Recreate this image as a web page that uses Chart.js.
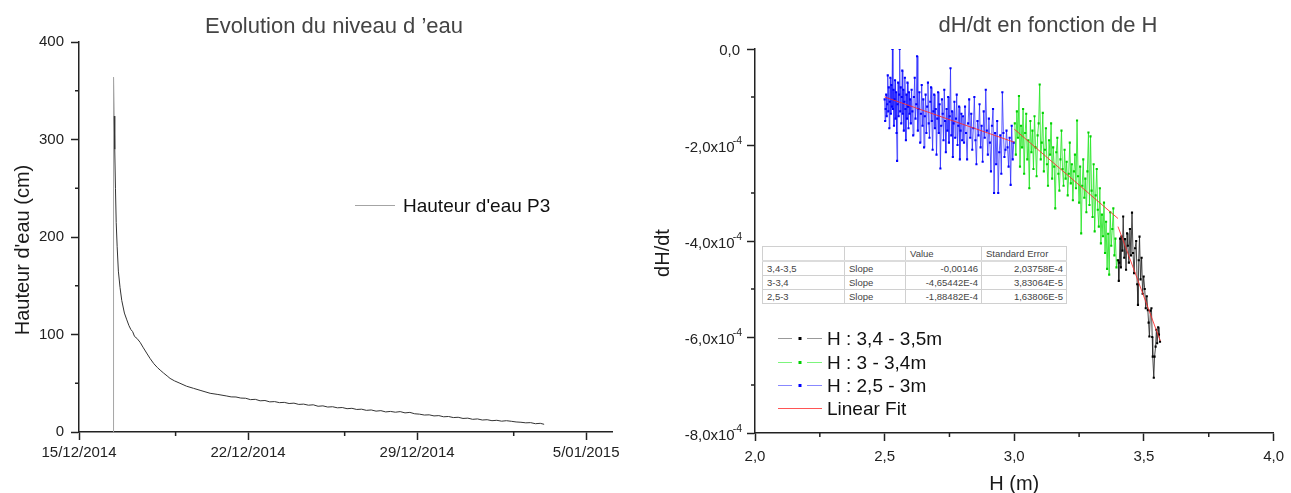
<!DOCTYPE html>
<html>
<head>
<meta charset="utf-8">
<script src="https://cdn.jsdelivr.net/npm/chart.js@4.4.1/dist/chart.umd.min.js"></script>
<style>
body { margin: 0; background: #fff; width: 1291px; height: 493px; overflow: hidden; position: relative; font-family: "Liberation Sans", Arial, sans-serif; }
#niveau { position: absolute; left: 0; top: 0; }
#vitesse { position: absolute; left: 640px; top: 0; }
#fitTable { position: absolute; left: 762px; top: 246px; border-collapse: collapse; font-size: 9.5px; color: #444; background: #fff; border: 1px solid #9a9a9a; table-layout: fixed; }
#fitTable td { border: 1px solid #d0d0d0; height: 13px; line-height: 13px; padding: 0 4px; white-space: nowrap; overflow: hidden; }
#fitTable tr:first-child td { border-bottom: 2px solid #dcdcdc; }
#fitTable td.num { text-align: right; padding-right: 3px; }
</style>
</head>
<body>
<canvas id="niveau" width="640" height="493"></canvas>
<canvas id="vitesse" width="651" height="493"></canvas>
<table id="fitTable"></table>
<script>
// ---- Evolution du niveau d'eau (P3) ----
// time in days after 15/12/2014 00:00, water height in cm
const jours = [
  1.42, 1.43, 1.46, 1.48, 1.51, 1.54, 1.58, 1.63, 1.70, 1.77, 1.88, 1.98, 2.07, 2.15, 2.22, 2.30,
  2.40, 2.53, 2.65, 2.80, 2.94, 3.10, 3.25, 3.36, 3.50, 3.65, 3.77, 3.95, 4.18, 4.45, 4.74, 5.05,
  5.43, 5.75, 6.12, 6.3, 6.5, 6.7, 6.9, 7.1, 7.3, 7.5, 7.7, 7.9, 8.1, 8.3, 8.5, 8.7, 8.9, 9.1,
  9.3, 9.5, 9.7, 9.9, 10.1, 10.3, 10.5, 10.7, 10.9, 11.1, 11.3, 11.5, 11.7, 11.9, 12.1, 12.3,
  12.5, 12.7, 12.9, 13.1, 13.3, 13.5, 13.7, 13.9, 14.1, 14.3, 14.5, 14.7, 14.9, 15.1, 15.3, 15.5,
  15.7, 15.9, 16.1, 16.3, 16.5, 16.7, 16.9, 17.1, 17.3, 17.5, 17.7, 17.9, 18.1, 18.3, 18.5, 18.7,
  18.9, 19.1, 19.26
];
const hauteurCm = [
  0, 364, 324, 290, 250, 215, 190, 165, 148, 135, 122, 115, 109, 105, 103, 98,
  96, 92, 87, 81, 75.5, 70, 66, 63.5, 60.5, 57.5, 55, 52.5, 50, 47, 44.8, 42.5,
  39.7, 38.5, 36.9, 36.0, 35.9, 34.8, 34.6, 33.2, 33.5, 32.0, 32.3, 30.9, 31.2, 30.1, 30.4, 29.2, 29.6, 28.3,
  28.6, 27.5, 27.9, 26.4, 26.8, 25.6, 25.9, 24.8, 25.1, 23.9, 24.3, 23.1, 23.4, 22.2, 22.6, 21.4,
  21.9, 20.6, 21.1, 20.3, 20.9, 19.6, 20.1, 18.7, 18.3, 17.4, 17.6, 16.5, 16.8, 15.6, 15.9, 14.8,
  15.1, 13.9, 14.2, 13.0, 13.4, 12.3, 12.6, 11.6, 12.0, 11.1, 11.6, 11.0, 10.3, 10.0, 9.4, 9.6,
  8.5, 8.9, 7.9
];
const jourTicks = [0, 7, 14, 21];
const jourLabels = ['15/12/2014', '22/12/2014', '29/12/2014', '5/01/2015'];
const jourMinor = [4, 11, 18];
const hauteurTicks = [0, 100, 200, 300, 400];
const hauteurMinor = [50, 150, 250, 350];

// ---- dH/dt en fonction de H ----
// rates are in units of 1e-4
const RATE_UNIT = 1e-4;
const hBleu = [
  2.500, 2.502, 2.504, 2.506, 2.508, 2.510, 2.512, 2.514, 2.516, 2.518, 2.520, 2.522, 2.524, 2.526, 2.528, 2.530,
  2.532, 2.534, 2.536, 2.538, 2.540, 2.542, 2.544, 2.546, 2.548, 2.550, 2.552, 2.554, 2.556, 2.558, 2.560, 2.562,
  2.564, 2.566, 2.568, 2.570, 2.572, 2.574, 2.576, 2.578, 2.580, 2.582, 2.584, 2.586, 2.588, 2.590, 2.592, 2.594,
  2.596, 2.598,
  2.601, 2.604, 2.607, 2.610, 2.613, 2.616, 2.619, 2.622, 2.625, 2.628, 2.631, 2.634, 2.637, 2.640, 2.643, 2.646,
  2.649, 2.652, 2.655, 2.658, 2.661, 2.664, 2.667, 2.670, 2.673, 2.676, 2.679, 2.682, 2.685, 2.688, 2.691, 2.694,
  2.697, 2.700, 2.703, 2.706, 2.709, 2.712, 2.715, 2.718, 2.721, 2.724, 2.727, 2.730, 2.733, 2.736, 2.739, 2.742,
  2.745, 2.748, 2.751, 2.754, 2.757, 2.760, 2.763, 2.766, 2.769, 2.772, 2.775, 2.778, 2.781, 2.784, 2.787, 2.790,
  2.793, 2.796, 2.799,
  2.802, 2.806, 2.810, 2.814, 2.818, 2.822, 2.826, 2.830, 2.834, 2.838, 2.842, 2.846, 2.850, 2.854, 2.858, 2.862,
  2.866, 2.870, 2.874, 2.878, 2.882, 2.886, 2.890, 2.894, 2.898, 2.902, 2.906, 2.910, 2.914, 2.918, 2.922, 2.926,
  2.930, 2.934, 2.938, 2.942, 2.946, 2.950, 2.954, 2.958, 2.962, 2.966, 2.970, 2.974, 2.978, 2.982, 2.986, 2.990,
  2.994, 2.998
];
const rateBleu = [
  -1.05, -1.50, -1.25, -0.95, -1.40, -1.15, -0.55, -1.30, -0.80, -1.65, -1.10, -0.60, -1.35, -0.75, -1.20, -0.00,
  -1.25, -0.85, -1.60, -1.05, -0.65, -1.45, -0.90, -1.75, -2.33, -1.15, -0.70, -1.40, -0.95, -0.00, -1.30, -0.80,
  -1.55, -1.00, -0.45, -1.35, -0.85, -1.70, -1.10, -0.60, -1.25, -1.90, -0.95, -1.45, -0.70, -1.20, -1.65, -0.90,
  -1.35, -1.05,
  -1.55, -0.85, -1.30, -1.80, -1.00, -0.60, -1.45, -1.15, -0.15, -1.70, -1.25, -0.90, -1.95, -1.35, -0.75, -1.60,
  -1.05, -2.05, -1.40, -0.95, -1.75, -1.20, -0.70, -1.55, -1.85, -1.10, -0.80, -1.50, -2.10, -1.30, -0.95, -1.65,
  -1.25, -2.20, -1.45, -0.90, -1.75, -1.15, -2.49, -1.60, -1.05, -1.35, -1.90, -0.85, -1.50, -2.15, -1.25, -1.70,
  -1.00, -1.95, -1.40, -0.40, -1.80, -1.30, -2.25, -1.55, -1.10, -1.85, -1.45, -0.95, -2.00, -1.60, -1.20, -2.30,
  -1.70, -1.35, -1.90,
  -1.40, -1.95, -1.20, -1.75, -2.30, -1.55, -1.05, -1.85, -1.35, -2.10, -1.65, -1.00, -1.90, -2.40, -1.50, -1.80,
  -1.15, -2.05, -1.60, -2.35, -1.30, -1.85, -0.85, -1.70, -2.20, -1.45, -1.95, -2.55, -1.60, -1.25, -3.00, -1.75,
  -2.40, -1.50, -3.00, -2.15, -1.80, -2.60, -0.90, -1.75, -2.25, -2.10, -1.70, -2.05, -2.45, -1.85, -2.83, -1.60,
  -2.30, -1.95
];
const hVert = [
  3.002, 3.006, 3.010, 3.014, 3.018, 3.022, 3.026, 3.030, 3.034, 3.038, 3.042, 3.046, 3.050, 3.054, 3.058, 3.062,
  3.066, 3.070, 3.074, 3.078, 3.082, 3.086, 3.090, 3.094, 3.098, 3.102, 3.106, 3.110, 3.114, 3.118, 3.122, 3.126,
  3.130, 3.134, 3.138, 3.142, 3.146, 3.150, 3.154, 3.158, 3.162, 3.166, 3.170, 3.174, 3.178, 3.182, 3.186, 3.190,
  3.194, 3.198, 3.202, 3.206, 3.210, 3.214, 3.218, 3.222, 3.226, 3.230, 3.234, 3.238, 3.242, 3.246, 3.250, 3.254,
  3.258, 3.262, 3.266, 3.270, 3.274, 3.278, 3.282, 3.286, 3.290, 3.294, 3.298, 3.302, 3.306, 3.310, 3.314, 3.318,
  3.322, 3.326, 3.330, 3.334, 3.338, 3.342, 3.346, 3.350, 3.354, 3.358, 3.362, 3.366, 3.370, 3.374, 3.378, 3.382,
  3.386, 3.390, 3.394, 3.398
];
const rateVert = [
  -1.55, -2.20, -1.30, -1.85, -0.98, -2.45, -1.60, -2.05, -1.25, -2.60, -1.75, -1.35, -2.30, -1.90, -2.90, -1.50,
  -2.15, -1.70, -2.50, -1.40, -2.05, -2.65, -1.80, -1.55, -0.74, -2.30, -1.95, -1.33, -2.55, -2.10, -1.65, -2.40,
  -2.85, -1.90, -2.20, -1.55, -2.70, -2.05, -2.45, -3.32, -2.15, -1.85, -2.60, -2.95, -2.30, -1.70, -2.50, -2.85,
  -2.10, -2.70, -2.35, -3.05, -2.60, -1.95, -2.80, -2.40, -3.15, -2.55, -2.20, -2.90, -1.49, -2.65, -3.20, -2.45,
  -3.84, -2.85, -2.30, -3.10, -2.70, -3.40, -2.55, -1.74, -3.25, -1.82, -2.95, -3.50, -2.40, -3.80, -3.05, -2.50,
  -3.35, -3.70, -2.90, -4.05, -3.45, -3.90, -3.20, -4.25, -3.60, -4.58, -3.85, -4.70, -3.40, -4.10, -3.75, -3.32,
  -4.30, -3.95, -4.55, -4.40
];
const hNoir = [
  3.401, 3.403, 3.405, 3.408, 3.411, 3.413, 3.417, 3.420, 3.424, 3.427, 3.431, 3.435, 3.438, 3.442, 3.446, 3.450,
  3.454, 3.458, 3.462, 3.466, 3.470, 3.474, 3.477, 3.480, 3.483, 3.487, 3.491, 3.495, 3.499, 3.503, 3.507, 3.511,
  3.515, 3.518, 3.521, 3.525, 3.529, 3.532, 3.534, 3.538, 3.541, 3.545, 3.548, 3.551, 3.555, 3.558, 3.562
];
const rateNoir = [
  -4.40, -4.83, -4.45, -3.95, -4.55, -3.91, -4.20, -3.49, -4.35, -3.96, -4.60, -3.84, -4.10, -4.45, -3.75, -4.30,
  -3.41, -4.25, -4.67, -4.15, -4.00, -4.90, -5.33, -4.40, -3.91, -4.80, -4.35, -5.10, -4.74, -5.00, -5.40, -5.15,
  -5.44, -5.70, -5.99, -5.45, -5.40, -6.00, -6.41, -6.85, -6.41, -6.20, -5.85, -6.13, -5.80, -5.95, -6.10
];
const serieLabels = ['H : 3,4 - 3,5m', 'H : 3 - 3,4m', 'H : 2,5 - 3m', 'Linear Fit'];

// linear fits, one per H range (slopes per m)
const fitRanges = ['3,4-3,5', '3-3,4', '2,5-3'];
const fitFrom = [3.40, 3.00, 2.50];
const fitTo = [3.563, 3.40, 3.00];
const fitStartRate = [-3.70, -1.67, -1.00];
const fitSlope = [-0.00146, -4.65442e-4, -1.88482e-4];
const fitStdErr = [2.03758e-4, 3.83064e-5, 1.63806e-5];

const hTicks = [2, 2.5, 3, 3.5, 4];
const hTickLabels = ['2,0', '2,5', '3,0', '3,5', '4,0'];
const hMinor = [2.25, 2.75, 3.25, 3.75];
const rateTicks = [0, -2, -4, -6, -8];
const rateTickLabels = ['0,0', '-2,0x10', '-4,0x10', '-6,0x10', '-8,0x10'];
const rateTickExp = ['', '-4', '-4', '-4', '-4'];
const rateMinor = [-1, -3, -5, -7];

const FONT = '"Liberation Sans", Arial, sans-serif';
Chart.defaults.font.family = FONT;
Chart.defaults.color = '#222';
Chart.defaults.animation = false;

function fmtOrigin(v) {
  if (Math.abs(v) >= 1e-3) return String(v).replace('.', ',');
  return v.toExponential(5).replace('.', ',').replace('e', 'E');
}

function drawMinor(ctx, scale, values, len) {
  ctx.save();
  ctx.strokeStyle = '#222';
  ctx.lineWidth = 1.5;
  ctx.beginPath();
  values.forEach(v => {
    const p = scale.getPixelForValue(v);
    if (scale.isHorizontal()) {
      ctx.moveTo(p, scale.top);
      ctx.lineTo(p, scale.top + len);
    } else {
      ctx.moveTo(scale.right - len, p);
      ctx.lineTo(scale.right, p);
    }
  });
  ctx.stroke();
  ctx.restore();
}

function axisX(min, max, ticks, labels, pad) {
  return {
    type: 'linear', min: min, max: max,
    afterBuildTicks: s => { s.ticks = ticks.map(v => ({ value: v })); },
    afterFit: s => { s.height = 40; },
    ticks: { callback: (v, i) => labels[i], maxRotation: 0, autoSkip: false, padding: pad, font: { size: 15 }, color: '#222' },
    grid: { drawOnChartArea: false, tickLength: 8, tickWidth: 1.5, tickColor: '#222' },
    border: { color: '#222', width: 1.5 }
  };
}

// left chart decorations: title, axis title, legend, minor ticks
const decorNiveau = {
  id: 'decorNiveau',
  afterDraw(chart) {
    const ctx = chart.ctx;
    drawMinor(ctx, chart.scales.x, jourMinor, 4);
    drawMinor(ctx, chart.scales.y, hauteurMinor, 4);
    ctx.save();
    ctx.fillStyle = '#444';
    ctx.font = '22px ' + FONT;
    ctx.textAlign = 'center';
    ctx.fillText("Evolution du niveau d \u2019eau", 334, 32.5);
    ctx.fillStyle = '#1a1a1a';
    ctx.font = '20px ' + FONT;
    ctx.translate(29, 250);
    ctx.rotate(-Math.PI / 2);
    ctx.fillText("Hauteur d'eau (cm)", 0, 0);
    ctx.restore();
    ctx.save();
    ctx.strokeStyle = '#a4a4a4';
    ctx.lineWidth = 1;
    ctx.beginPath();
    ctx.moveTo(355, 205.5);
    ctx.lineTo(395, 205.5);
    ctx.stroke();
    ctx.fillStyle = '#111';
    ctx.font = '19px ' + FONT;
    ctx.fillText(chart.data.datasets[0].label, 403, 211.5);
    ctx.restore();
  }
};

new Chart(document.getElementById('niveau'), {
  type: 'line',
  data: {
    datasets: [{
      label: "Hauteur d'eau P3",
      data: jours.map((d, i) => ({ x: d, y: hauteurCm[i] })),
      borderColor: '#333',
      borderWidth: 1,
      segment: { borderColor: c => c.p0DataIndex < 2 ? '#a6a6a6' : '#333' },
      pointRadius: 0,
      tension: 0
    }]
  },
  options: {
    responsive: false,
    events: [],
    layout: { padding: { left: 0, top: 42, right: 28, bottom: 21 } },
    plugins: { legend: { display: false }, tooltip: { enabled: false } },
    scales: {
      x: axisX(0, 22.07, jourTicks, jourLabels, 4),
      y: {
        min: 0, max: 400,
        afterBuildTicks: s => { s.ticks = hauteurTicks.map(v => ({ value: v })); },
        afterFit: s => { s.width = 79; },
        ticks: { padding: 7, font: { size: 15 }, color: '#222' },
        grid: { drawOnChartArea: false, tickLength: 8, tickWidth: 1.5, tickColor: '#222' },
        border: { color: '#222', width: 1.5 }
      }
    }
  },
  plugins: [decorNiveau]
});

// right chart decorations: title, axis titles, y labels with exponent, legend, minor ticks
const decorVitesse = {
  id: 'decorVitesse',
  afterDraw(chart) {
    const ctx = chart.ctx;
    const xs = chart.scales.x, ys = chart.scales.y;
    drawMinor(ctx, xs, hMinor, 4);
    drawMinor(ctx, ys, rateMinor.map(v => v * RATE_UNIT), 4);

    ctx.save();
    ctx.fillStyle = '#222';
    ctx.textAlign = 'right';
    rateTicks.forEach((v, i) => {
      const y = ys.getPixelForValue(v * RATE_UNIT);
      const right = ys.right - 13;
      if (rateTickExp[i]) {
        ctx.font = '10.5px ' + FONT;
        const w = ctx.measureText(rateTickExp[i]).width;
        ctx.fillText(rateTickExp[i], right, y - 1.5);
        ctx.font = '15px ' + FONT;
        ctx.fillText(rateTickLabels[i], right - w + 2, y + 6.5);
      } else {
        ctx.font = '15px ' + FONT;
        ctx.fillText(rateTickLabels[i], right - 2, y + 5.5);
      }
    });

    ctx.textAlign = 'center';
    ctx.fillStyle = '#444';
    ctx.font = '22px ' + FONT;
    ctx.fillText('dH/dt en fonction de H', 408, 32);
    ctx.fillStyle = '#1a1a1a';
    ctx.font = '20px ' + FONT;
    ctx.fillText('H (m)', (chart.chartArea.left + chart.chartArea.right) / 2, 490);
    ctx.translate(29, 253);
    ctx.rotate(-Math.PI / 2);
    ctx.fillText('dH/dt', 0, 0);
    ctx.restore();

    // legend
    const items = [chart.data.datasets[3], chart.data.datasets[4], chart.data.datasets[5], chart.data.datasets[0]];
    const baselines = [345, 368.5, 391.5, 414.5];
    ctx.save();
    ctx.font = '19px ' + FONT;
    ctx.textAlign = 'left';
    items.forEach((ds, i) => {
      const y = Math.round(baselines[i] - 7) + 0.5;
      ctx.strokeStyle = ds.legendLine;
      ctx.lineWidth = 1;
      ctx.beginPath();
      if (ds.pointRadius > 0) {
        ctx.moveTo(138, y); ctx.lineTo(152, y);
        ctx.moveTo(167, y); ctx.lineTo(182, y);
      } else {
        ctx.moveTo(138, y); ctx.lineTo(182, y);
      }
      ctx.stroke();
      if (ds.pointRadius > 0) {
        ctx.fillStyle = ds.pointBackgroundColor;
        ctx.fillRect(158.5, y - 1.5, 3, 3);
      }
      ctx.fillStyle = '#111';
      ctx.fillText(serieLabels[i], 187, baselines[i]);
    });
    ctx.restore();
  }
};

function serie(label, hs, rates, line, pts, legendLine) {
  return {
    label: label,
    data: hs.map((h, i) => ({ x: h, y: rates[i] * RATE_UNIT })),
    borderColor: line, borderWidth: 1, legendLine: legendLine,
    pointStyle: 'rect', pointRadius: 1.5, pointBorderWidth: 0, pointBackgroundColor: pts,
    tension: 0
  };
}

const fitSets = fitFrom.map((h0, i) => ({
  label: serieLabels[3],
  data: [
    { x: h0, y: fitStartRate[i] * RATE_UNIT },
    { x: fitTo[i], y: fitStartRate[i] * RATE_UNIT + fitSlope[i] * (fitTo[i] - h0) }
  ],
  borderColor: 'rgba(255,40,40,0.85)', borderWidth: 1, legendLine: '#ff5555',
  pointRadius: 0, tension: 0
}));

new Chart(document.getElementById('vitesse'), {
  type: 'line',
  data: {
    datasets: fitSets.concat([
      serie(serieLabels[0], hNoir, rateNoir, 'rgba(40,40,40,0.85)', '#000', '#999'),
      serie(serieLabels[1], hVert, rateVert, 'rgba(40,230,40,0.85)', '#00d000', '#7cf57c'),
      serie(serieLabels[2], hBleu, rateBleu, 'rgba(40,40,255,0.75)', '#0000ff', '#8888ff')
    ])
  },
  options: {
    responsive: false,
    events: [],
    layout: { padding: { left: 0, top: 49, right: 13, bottom: 20 } },
    plugins: { legend: { display: false }, tooltip: { enabled: false } },
    scales: {
      x: axisX(2, 4, hTicks, hTickLabels, 7),
      y: {
        min: -8e-4, max: 0,
        afterBuildTicks: s => { s.ticks = rateTicks.map(v => ({ value: v * RATE_UNIT })); },
        afterFit: s => { s.width = 115; },
        ticks: { display: false },
        grid: { drawOnChartArea: false, tickLength: 8, tickWidth: 1.5, tickColor: '#222' },
        border: { color: '#222', width: 1.5 }
      }
    }
  },
  plugins: [decorVitesse]
});

// fit results table
const table = document.getElementById('fitTable');
const widths = [82, 61, 76, 85];
let html = '<colgroup>' + widths.map(w => '<col style="width:' + w + 'px">').join('') + '</colgroup>';
html += '<tr><td></td><td></td><td>Value</td><td>Standard Error</td></tr>';
fitRanges.forEach((r, i) => {
  html += '<tr><td>' + r + '</td><td>Slope</td><td class="num">' + fmtOrigin(fitSlope[i]) +
    '</td><td class="num">' + fmtOrigin(fitStdErr[i]) + '</td></tr>';
});
table.innerHTML = html;
</script>
</body>
</html>
